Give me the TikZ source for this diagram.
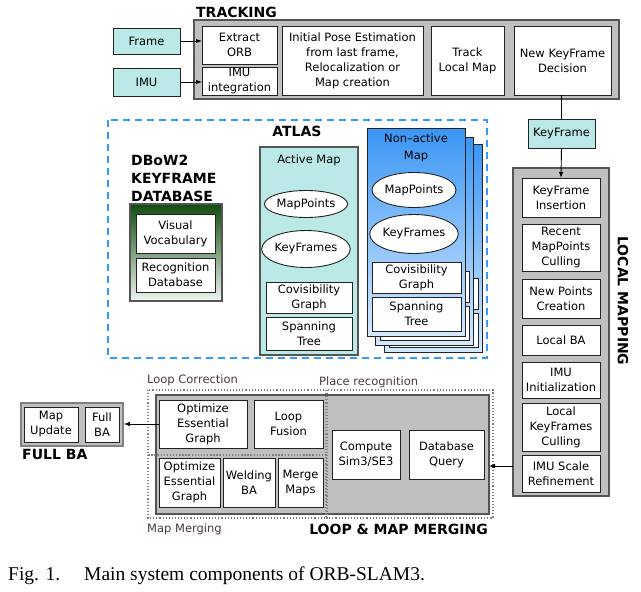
\documentclass[tikz,border=0pt]{standalone}
\usepackage{fontspec}
\setmainfont{DejaVu Sans}
\newfontfamily\capfont{Liberation Serif}
\usetikzlibrary{arrows.meta,shapes.geometric}
\definecolor{cyanfill}{HTML}{BBE9E7}
\definecolor{grayfill}{HTML}{C0C0C0}
\definecolor{grayline}{HTML}{555555}
\definecolor{boxline}{HTML}{222222}
\definecolor{atlasblue}{HTML}{3399FF}
\definecolor{labelbrown}{HTML}{4A3B3B}
\definecolor{dbgreen}{HTML}{0F4D0F}
\definecolor{dblight}{HTML}{F0F5F0}
\definecolor{natop}{HTML}{3A95F4}
\definecolor{nabot}{HTML}{D4E9FF}
\newcommand\rbox[7]{\node[#1, minimum width={((#5)-(#3))*1pt}, minimum height={((#6)-(#4))*1pt}] (#2) at ({((#3)+(#5))/2},{((#4)+(#6))/2}) {#7};}
\tikzset{
  txt/.style={font=\fontsize{11.5}{15}\selectfont, align=center, inner sep=0pt, outer sep=0pt},
  wbox/.style={txt, draw=boxline, fill=white, line width=0.9pt},
  cbox/.style={txt, draw=boxline, fill=cyanfill, line width=0.9pt},
  gbox/.style={draw=grayline, fill=grayfill, line width=1.6pt, inner sep=0pt, outer sep=0pt},
  ell/.style={txt, ellipse, draw=boxline, fill=white, line width=0.9pt},
  lbl/.style={font=\fontsize{14}{17}\selectfont\bfseries, inner sep=0pt},
  sublbl/.style={font=\fontsize{11.5}{15}\selectfont, text=labelbrown, inner sep=0pt},
  napanel/.style={draw=boxline, line width=0.9pt, top color=natop, bottom color=nabot, inner sep=0pt, outer sep=0pt},
  dotbox/.style={draw=gray, line width=1.1pt, dotted},
  arr/.style={draw=black, line width=0.9pt, -{Latex[length=6pt,width=4.5pt]}},
  ln/.style={draw=black, line width=0.9pt},
}
% back panel of the stack: only its edges show
\newcommand\backpanelat[3]{%
  \rbox{napanel}{#1}{367+#2}{128+#3}{465+#2}{336+#3}{}
  \rbox{wbox}{#1cg}{372+#2}{262+#3}{461+#2}{293+#3}{}
  \rbox{wbox}{#1st}{372+#2}{297+#3}{461+#2}{331+#3}{}
}
\begin{document}
\begin{tikzpicture}[x=1pt,y=-1pt]
\fill[white] (0,0) rectangle (641,592);
\useasboundingbox (0,0) rectangle (641,592);

% ---------------- TRACKING ----------------
\node[lbl, anchor=base west] (tracklbl) at (196,17) {TRACKING};
\rbox{gbox}{track}{194}{20}{619}{99}{}
\rbox{cbox}{frame}{113}{28}{180}{54}{Frame}
\rbox{cbox}{imu}{113}{68}{180}{96}{IMU}
\rbox{wbox}{orb}{202}{26}{277}{64}{Extract\\ORB}
\rbox{wbox}{imuint}{202}{67}{277}{95}{IMU\\integration}
\rbox{wbox}{ipe}{282}{26}{423}{95}{Initial Pose Estimation\\from last frame,\\Relocalization or\\Map creation}
\rbox{wbox}{tlm}{431}{26}{504}{95}{Track\\Local Map}
\rbox{wbox}{nkd}{514}{26}{611}{95}{New KeyFrame\\Decision}
\draw[arr] (frame.east) -- (frame.east -| orb.west);
\draw[arr] (imu.east) -- (imu.east -| imuint.west);

% ---------------- KeyFrame + LOCAL MAPPING ----------------
\rbox{cbox}{kf}{528}{119}{595}{148}{KeyFrame}
\rbox{gbox}{lm}{513}{168}{609}{496}{}
\node[lbl, rotate=-90] (lmlbl) at (623,301) {LOCAL MAPPING};
\rbox{wbox}{kfi}{522}{178}{600}{217}{KeyFrame\\Insertion}
\rbox{wbox}{rmc}{522}{224}{600}{271}{Recent\\MapPoints\\Culling}
\rbox{wbox}{npc}{522}{279}{600}{318}{New Points\\Creation}
\rbox{wbox}{lba}{522}{325}{600}{355}{Local BA}
\rbox{wbox}{imui}{522}{362}{600}{398}{IMU\\Initialization}
\rbox{wbox}{lkc}{522}{403}{600}{451}{Local\\KeyFrames\\Culling}
\rbox{wbox}{imusr}{522}{455}{600}{492}{IMU Scale\\Refinement}
\draw[ln] (kf.north |- nkd.south) -- (kf.north);
\draw[arr] (kf.south) -- (kfi.north);

% ---------------- ATLAS ----------------
\draw[atlasblue, line width=2.2pt, dash pattern=on 7pt off 5pt] (108,120) rectangle (487,358);
\node[lbl, anchor=base] (atlaslbl) at (297,136) {ATLAS};
\node[lbl, anchor=base west] (db1) at (131,165) {DBoW2};
\node[lbl, anchor=base west] (db2) at (131,183) {KEYFRAME};
\node[lbl, anchor=base west] (db3) at (131,201) {DATABASE};
\rbox{draw=grayline, line width=1.4pt, top color=dbgreen, bottom color=dblight, inner sep=0pt}{dbow}{130}{204}{222}{301}{}
\rbox{wbox}{vv}{136}{214}{215}{253}{Visual\\Vocabulary}
\rbox{wbox}{rd}{136}{258}{215}{292}{Recognition\\Database}

% Active map
\rbox{draw=grayline, fill=cyanfill, line width=1.4pt, inner sep=0pt}{am}{260}{147}{358}{355}{}
\node[txt, anchor=base] (amlbl) at (309,163) {Active Map};
\node[ell, minimum width=82pt, minimum height=27pt] (amp) at (306,204) {MapPoints};
\node[ell, minimum width=82pt, minimum height=37pt] (akf) at (306,249) {KeyFrames};
\rbox{wbox}{acg}{266}{282}{352}{313}{Covisibility\\Graph}
\rbox{wbox}{ast}{266}{317}{352}{350}{Spanning\\Tree}

% Non-active maps (stack)
\backpanelat{nc}{17}{16}
\backpanelat{nb}{8}{9}
\rbox{napanel}{na}{367}{128}{465}{336}{}
\rbox{wbox}{nacg}{372}{262}{461}{293}{Covisibility\\Graph}
\rbox{wbox}{nast}{372}{297}{461}{331}{Spanning\\Tree}
\node[txt, font=\fontsize{11.5}{16.5}\selectfont] (natitle) at (416,148) {Non–active\\Map};
\node[ell, minimum width=84pt, minimum height=35pt] (nmp) at (414,190) {MapPoints};
\node[ell, minimum width=84pt, minimum height=39pt] (nkf) at (414,234) {KeyFrames};

% ---------------- LOOP & MAP MERGING ----------------
\node[sublbl, anchor=base west] (lclbl) at (147,383) {Loop Correction};
\node[sublbl, anchor=base west] (prlbl) at (319,385) {Place recognition};
\rbox{gbox}{loop}{156}{395}{489}{514}{}
\draw[dotbox] (148,390) rectangle (326,455);
\draw[dotbox] (148,455) rectangle (326,518);
\draw[dotbox] (327,390) rectangle (493,518);
\rbox{wbox}{oeg}{159}{400}{247}{448}{Optimize\\Essential\\Graph}
\rbox{wbox}{lf}{254}{400}{323}{448}{Loop\\Fusion}
\rbox{wbox}{oeg2}{159}{458}{220}{507}{Optimize\\Essential\\Graph}
\rbox{wbox}{wba}{223}{458}{275}{507}{Welding\\BA}
\rbox{wbox}{mm}{278}{458}{323}{507}{Merge\\Maps}
\rbox{wbox}{sim}{332}{430}{400}{479}{Compute\\Sim3/SE3}
\rbox{wbox}{dq}{409}{430}{484}{479}{Database\\Query}
\node[sublbl, anchor=base west] (mmlbl) at (147,532) {Map Merging};
\node[lbl, anchor=base east] (loollbl) at (488,534) {LOOP \& MAP MERGING};
\coordinate (lmy) at (0,466);
\draw[arr] (lm.west |- lmy) -- (loop.east |- lmy);

% ---------------- FULL BA ----------------
\rbox{draw=gray, fill=grayfill, line width=1.6pt, inner sep=0pt}{fba}{21}{403}{123}{446}{}
\rbox{wbox}{mu}{24}{407}{78}{442}{Map\\Update}
\rbox{wbox}{fb}{85}{407}{119}{442}{Full\\BA}
\node[lbl, anchor=base west] (fbalbl) at (22,459) {FULL BA};
\draw[arr] (oeg.west) -- (fba.east |- oeg.west);

% ---------------- caption ----------------
\node[font=\capfont\fontsize{19.5}{22}\selectfont, anchor=base west, inner sep=0pt] (cap1) at (8,580) {Fig. 1.};
\node[font=\capfont\fontsize{19.5}{22}\selectfont, anchor=base west, inner sep=0pt] (cap2) at (84,580) {Main system components of ORB-SLAM3.};
\end{tikzpicture}
\end{document}
